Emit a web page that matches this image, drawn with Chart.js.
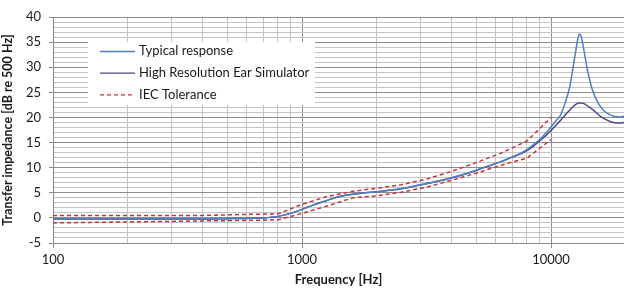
<!DOCTYPE html>
<html>
<head>
<meta charset="utf-8">
<script src="https://cdn.jsdelivr.net/npm/chart.js@4.4.1/dist/chart.umd.min.js"></script>
<style>
  html, body { margin: 0; padding: 0; background: #fff; }
  #wrap { width: 624px; height: 289px; }
</style>
</head>
<body>
<div id="wrap"><canvas id="chart" width="624" height="289"></canvas></div>
<script>
// values
var typicalFreq = [100, 200, 300, 400, 500, 600, 700, 800, 900, 1000, 1100, 1250, 1400, 1600, 1800, 2000, 2500, 3000, 3500, 4000, 4700, 5500, 6300, 7000, 7500, 8000, 8500, 9000, 9500, 10000, 10500, 10900, 11400, 11900, 12500, 12800, 13000, 13200, 13600, 14000, 14700, 15500, 16200, 17000, 18000, 19000, 20000];
var typicalDb   = [-0.2, -0.2, -0.2, -0.2, -0.15, -0.1, 0.0, 0.3, 0.9, 1.7, 2.5, 3.4, 4.2, 4.7, 5.0, 5.2, 5.8, 6.6, 7.3, 8.0, 9.0, 10.2, 11.2, 12.2, 12.8, 13.6, 14.6, 15.6, 16.8, 18.1, 19.4, 20.4, 22.9, 26.2, 32.5, 35.5, 36.6, 36.2, 33.0, 29.5, 25.3, 22.8, 21.5, 20.7, 20.2, 20.1, 20.3];

var hresFreq = [100, 200, 300, 400, 500, 600, 700, 800, 900, 1000, 1100, 1250, 1400, 1600, 1800, 2000, 2500, 3000, 3500, 4000, 4700, 5500, 6300, 7000, 7500, 8000, 8500, 9000, 9500, 10000, 10500, 11000, 11500, 12000, 12500, 12900, 13500, 14300, 15000, 15800, 16600, 17500, 18500, 20000];
var hresDb   = [-0.2, -0.2, -0.2, -0.2, -0.15, -0.1, 0.0, 0.3, 0.9, 1.7, 2.5, 3.4, 4.2, 4.7, 5.0, 5.2, 5.8, 6.6, 7.3, 8.0, 9.0, 10.2, 11.2, 12.1, 12.7, 13.4, 14.3, 15.3, 16.3, 17.4, 18.5, 19.6, 20.7, 21.7, 22.5, 22.9, 22.8, 22.0, 21.2, 20.2, 19.6, 19.1, 18.9, 19.0];

var tolFreq  = [100, 200, 300, 400, 500, 600, 700, 800, 1000, 1250, 1600, 2000, 2500, 3150, 4000, 5000, 6300, 8000, 10000];
var tolUpper = [0.5, 0.5, 0.5, 0.5, 0.6, 0.7, 0.75, 0.8, 2.7, 4.2, 5.3, 5.9, 6.6, 7.7, 9.3, 11.0, 12.9, 15.3, 20.0];
var tolLower = [-1.0, -0.8, -0.7, -0.6, -0.55, -0.5, -0.45, -0.4, 0.9, 2.3, 4.0, 4.4, 5.1, 6.1, 7.5, 8.9, 10.5, 11.9, 15.6];

var xTicks = [100, 200, 300, 400, 500, 600, 700, 800, 900, 1000, 2000, 3000, 4000, 5000, 6000, 7000, 8000, 9000, 10000];
var xLabels = [100, 1000, 10000];
var yMin = -5, yMax = 40, yLabelStep = 5;

function pts(f, v) {
  return f.map(function (x, i) { return { x: x, y: v[i] }; });
}

var FONT = 'Lato, "Open Sans", sans-serif';
var MAJOR = '#8c8c8c';
var MINOR = '#c4c4c4';

// legend drawn inside the plot on a white box
var boxLegend = {
  id: 'boxLegend',
  beforeDatasetsDraw: function (chart) {
    var ctx = chart.ctx;
    ctx.save();
    ctx.fillStyle = '#ffffff';
    ctx.fillRect(88, 42, 227, 63);
    var items = chart.data.datasets.filter(function (d) { return d.inLegend; });
    ctx.font = '13px ' + FONT;
    ctx.textBaseline = 'middle';
    items.forEach(function (d, i) {
      var y = 51 + i * 21.7;
      ctx.strokeStyle = d.borderColor;
      ctx.lineWidth = 1.3;
      ctx.setLineDash(d.borderDash || []);
      ctx.beginPath();
      ctx.moveTo(100, y + 0.5);
      ctx.lineTo(135, y + 0.5);
      ctx.stroke();
      ctx.setLineDash([]);
      ctx.fillStyle = '#1a1a1a';
      ctx.fillText(d.label, 139, y);
    });
    ctx.restore();
  }
};

new Chart(document.getElementById('chart'), {
  type: 'line',
  data: {
    datasets: [{
      label: 'Typical response',
      data: pts(typicalFreq, typicalDb),
      borderColor: '#4f7fbf',
      borderWidth: 1.5,
      cubicInterpolationMode: 'monotone',
      inLegend: true
    }, {
      label: 'High Resolution Ear Simulator',
      data: pts(hresFreq, hresDb),
      borderColor: '#4b4488',
      borderWidth: 1.5,
      cubicInterpolationMode: 'monotone',
      inLegend: true
    }, {
      label: 'IEC Tolerance',
      data: pts(tolFreq, tolUpper),
      borderColor: '#c8303a',
      borderWidth: 1.5,
      borderDash: [4, 3],
      inLegend: true
    }, {
      label: 'IEC Tolerance lower',
      data: pts(tolFreq, tolLower),
      borderColor: '#c8303a',
      borderWidth: 1.5,
      borderDash: [4, 3]
    }]
  },
  options: {
    responsive: false,
    animation: false,
    layout: { padding: { top: 17, right: 0, left: 0, bottom: 0 } },
    elements: { point: { radius: 0 }, line: { tension: 0 } },
    plugins: { legend: { display: false }, tooltip: { enabled: false } },
    scales: {
      x: {
        type: 'logarithmic',
        min: 100,
        max: 19640,
        afterBuildTicks: function (s) { s.ticks = xTicks.map(function (v) { return { value: v }; }); },
        afterFit: function (s) { s.height = 46; },
        ticks: {
          autoSkip: false,
          maxRotation: 0,
          padding: 4,
          color: '#1a1a1a',
          font: { family: FONT, size: 13 },
          callback: function (v) { return xLabels.indexOf(Number(v)) >= 0 ? String(v) : ''; }
        },
        grid: {
          tickLength: 5,
          color: function (c) { return xLabels.indexOf(c.tick && c.tick.value) >= 0 ? MAJOR : MINOR; },
          tickColor: function (c) { return xLabels.indexOf(c.tick && c.tick.value) >= 0 ? MAJOR : 'rgba(0,0,0,0)'; }
        },
        border: { color: MAJOR },
        title: {
          display: true,
          text: 'Frequency [Hz]',
          color: '#1a1a1a',
          font: { family: FONT, size: 13, weight: 'bold' },
          padding: { top: 0, bottom: 1 }
        }
      },
      y: {
        min: yMin,
        max: yMax,
        afterBuildTicks: function (s) {
          var t = [];
          for (var v = yMin; v <= yMax; v++) t.push({ value: v });
          s.ticks = t;
        },
        afterFit: function (s) { s.width = 53; },
        ticks: {
          autoSkip: false,
          padding: 8,
          color: '#1a1a1a',
          font: { family: FONT, size: 13 },
          callback: function (v) { return v % yLabelStep === 0 ? String(v) : ''; }
        },
        grid: {
          tickLength: 4,
          color: function (c) { return c.tick && c.tick.value % yLabelStep === 0 ? MAJOR : MINOR; },
          tickColor: function (c) { return c.tick && c.tick.value % yLabelStep === 0 ? MAJOR : 'rgba(0,0,0,0)'; }
        },
        border: { color: MAJOR },
        title: {
          display: true,
          text: 'Transfer impedance [dB re 500 Hz]',
          color: '#1a1a1a',
          font: { family: FONT, size: 12.5, weight: 'bold' },
          padding: { top: 0, bottom: 0 }
        }
      }
    }
  },
  plugins: [boxLegend]
});
</script>
</body>
</html>
